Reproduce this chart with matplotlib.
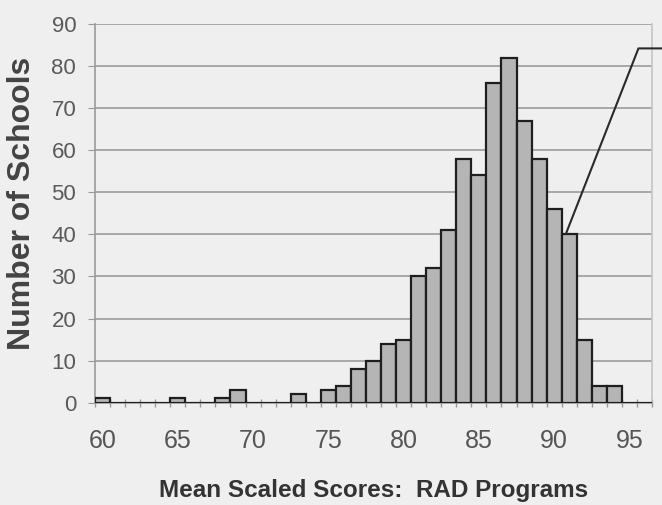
import matplotlib
matplotlib.use("Agg")
import matplotlib.pyplot as plt
import numpy as np

# Data
scores = list(range(60, 97))
counts = [1, 0, 0, 0, 0, 1, 0, 0, 1, 3,
          0, 0, 0, 2, 0, 3, 4, 8, 10, 14,
          15, 30, 32, 41, 58, 54, 76, 82, 67, 58,
          46, 40, 15, 4, 4, 0, 0]
y_ticks = [0, 10, 20, 30, 40, 50, 60, 70, 80, 90]
x_tick_labels = [60, 65, 70, 75, 80, 85, 90, 95]
x_label = "Mean Scaled Scores:  RAD Programs"
y_label = "Number of Schools"

W, H = 662, 505
bg = "#efefef"
fig = plt.figure(figsize=(W / 100, H / 100), dpi=100, facecolor=bg)
ax = fig.add_axes([95 / W, 1 - 402.7 / H, (652 - 95) / W, (402.7 - 24) / H])
ax.set_facecolor(bg)

ax.bar(scores, counts, width=1.0, color="#b5b5b5", edgecolor="#1e1e1e",
       linewidth=1.6, zorder=3)

ax.set_xlim(59.5, 96.5)
ax.set_ylim(0, 90)
ax.set_yticks(y_ticks)
ax.yaxis.grid(True, color="#a8a8a8", linewidth=1.4, zorder=0)
ax.set_axisbelow(True)

ax.set_xticks(x_tick_labels)
ax.set_xticklabels([str(v) for v in x_tick_labels])
ax.set_xticks(np.arange(59.5, 97.0, 1.0), minor=True)
ax.tick_params(axis="x", which="major", length=0, pad=19)
ax.tick_params(axis="x", which="minor", length=6, direction="inout",
               color="#999999", width=1)
ax.tick_params(axis="y", which="major", length=5, direction="out",
               color="#999999", pad=8.5)

for s in ["left", "bottom", "right"]:
    ax.spines[s].set_color("#9a9a9a")
    ax.spines[s].set_linewidth(1.2)
ax.spines["right"].set_color("#c4c4c4")
ax.spines["top"].set_visible(False)

for lbl in ax.get_xticklabels():
    lbl.set_family("Liberation Sans")
    lbl.set_fontsize(18)
    lbl.set_color("#555555")
for lbl in ax.get_yticklabels():
    lbl.set_family("Liberation Sans")
    lbl.set_fontsize(16)
    lbl.set_color("#5a5a5a")

fig.text(374 / W, 1 - 497 / H, x_label, fontsize=17.5, fontweight="bold",
         color="#333333", family="Liberation Sans", ha="center", va="baseline")
fig.text(22 / W, 1 - 203 / H, y_label, fontsize=23, fontweight="bold",
         color="#444444", family="Liberation Sans", ha="center", va="center",
         rotation=90)

# callout line
ax.plot([90.8, 95.6, 97.2], [40.3, 84.2, 84.2], color="#2a2a2a",
        linewidth=1.5, clip_on=False, zorder=4)

fig.savefig("out.png", dpi=100, facecolor=bg)
